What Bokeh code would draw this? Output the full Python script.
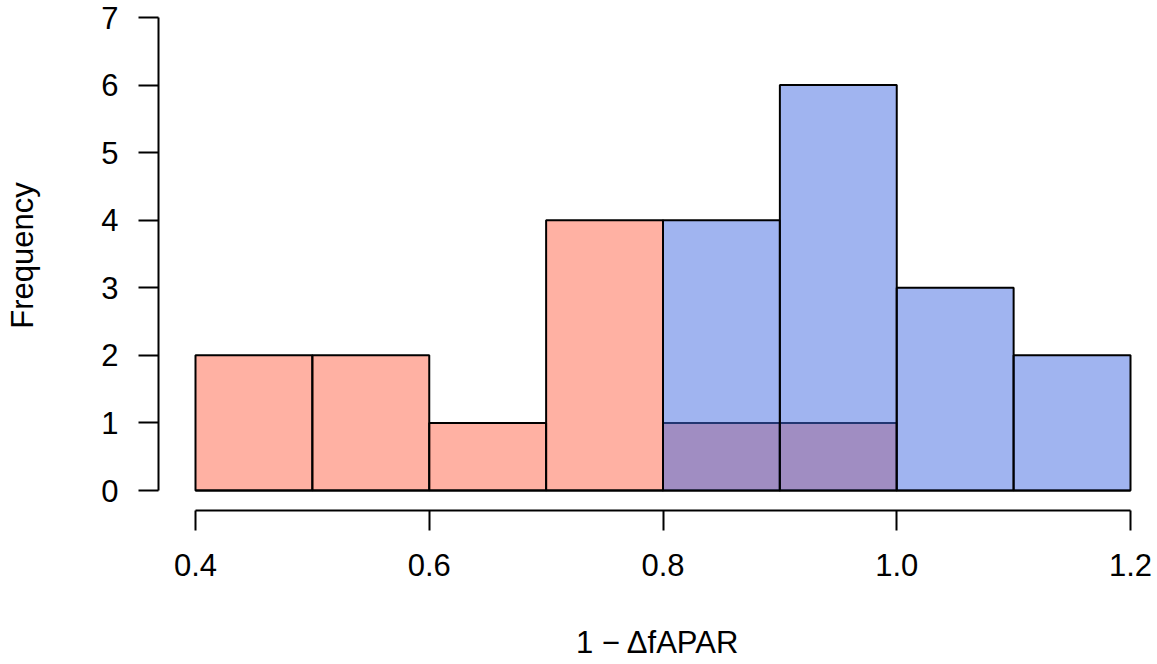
from bokeh.plotting import figure
from bokeh.models import Range1d, FixedTicker, LinearAxis
from bokeh.embed import file_html
from bokeh.resources import INLINE

# ---- data ----
bin_edges = [0.4, 0.5, 0.6, 0.7, 0.8, 0.9, 1.0, 1.1, 1.2]
red_counts = [2, 2, 1, 4, 1, 1, 0, 0]
blue_counts = [0, 0, 0, 0, 4, 6, 3, 2]
x_ticks = [0.4, 0.6, 0.8, 1.0, 1.2]
x_tick_labels = ["0.4", "0.6", "0.8", "1.0", "1.2"]
y_ticks = [0, 1, 2, 3, 4, 5, 6, 7]
x_title = "1 \u2212 \u0394fAPAR"
y_title = "Frequency"

FONT = "Liberation Sans"
FS = "31px"

p = figure(width=1157, height=664, output_backend="svg", toolbar_location=None,
           x_range=Range1d(0.36834, 1.22310), y_range=Range1d(-0.29598, 7.25159),
           x_axis_type=None, y_axis_type=None,
           min_border_left=158, min_border_right=0, min_border_top=0, min_border_bottom=154)
p.outline_line_color = None
p.background_fill_color = "white"
p.border_fill_color = "white"

lefts = bin_edges[:-1]
rights = bin_edges[1:]

p.quad(left=lefts, right=rights, bottom=[0] * len(red_counts), top=red_counts,
       fill_color="tomato", fill_alpha=0.5, line_color="black", line_width=2)
p.quad(left=lefts, right=rights, bottom=[0] * len(blue_counts), top=blue_counts,
       fill_color="royalblue", fill_alpha=0.5, line_color="black", line_width=2)

xaxis = LinearAxis(ticker=FixedTicker(ticks=x_ticks), bounds=(x_ticks[0], x_ticks[-1]))
xaxis.major_label_overrides = {t: l for t, l in zip(x_ticks, x_tick_labels)}
yaxis = LinearAxis(ticker=FixedTicker(ticks=y_ticks), bounds=(y_ticks[0], y_ticks[-1]))
for ax in (xaxis, yaxis):
    ax.axis_line_width = 2
    ax.major_tick_line_width = 2
    ax.major_tick_out = 20
    ax.major_tick_in = 0
    ax.minor_tick_line_color = None
    ax.major_label_text_font = FONT
    ax.major_label_text_font_size = FS
    ax.major_label_text_color = "black"
    ax.axis_label_text_font = FONT
    ax.axis_label_text_font_size = FS
    ax.axis_label_text_font_style = "normal"
    ax.axis_label_text_color = "black"
    ax.axis_line_color = "black"
    ax.major_tick_line_color = "black"
xaxis.axis_label = x_title
yaxis.axis_label = y_title
xaxis.major_label_standoff = 23
yaxis.major_label_standoff = 20
yaxis.major_label_orientation = "horizontal"
xaxis.axis_label_standoff = 46
yaxis.axis_label_standoff = 58
p.add_layout(xaxis, "below")
p.add_layout(yaxis, "left")

open("out.html", "w").write(file_html(p, INLINE))
